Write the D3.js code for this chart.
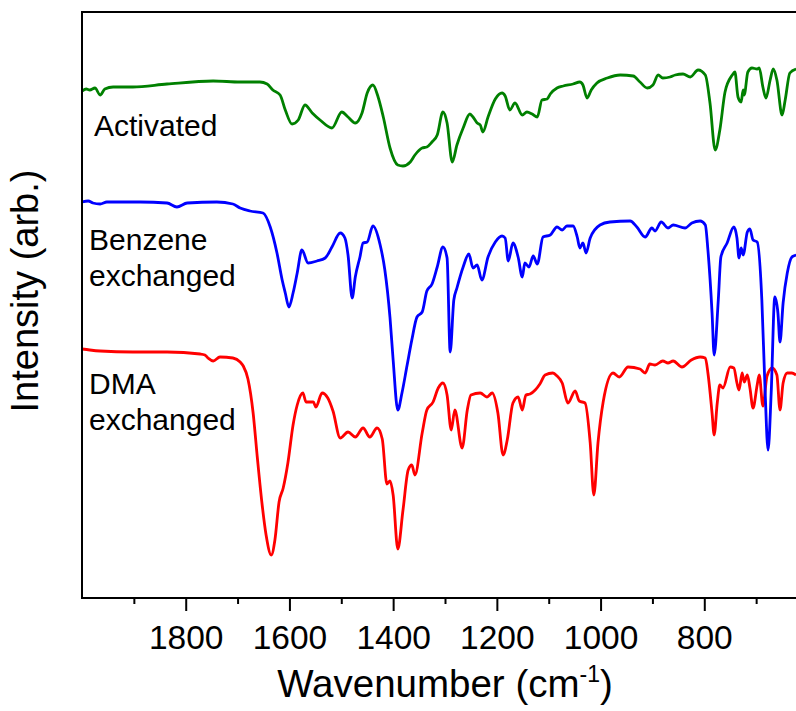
<!DOCTYPE html>
<html><head><meta charset="utf-8">
<script src="https://cdn.jsdelivr.net/npm/d3@7"></script>
<style>html,body{margin:0;padding:0;background:#fff;overflow:hidden}</style>
</head><body>
<svg id="chart" width="796" height="711"></svg>
<script>
// ---------- data (wavenumber in cm^-1, intensity in arbitrary units, offset per trace) ----------
const activatedWn = [2000,1992,1985,1975,1965,1956,1940,1902,1836,1747,
  1695,1657,1643,1632,1618,1608,1595,1583,1570,1556,
  1541,1518,1499,1487,1473,1460,1450,1439,1429,1419,
  1406,1391,1381,1367,1358,1344,1335,1325,1315,1304,
  1296,1286,1277,1265,1252,1246,1238,1232,1227,1217,
  1203,1190,1184,1175,1165,1151,1142,1132,1122,1113,
  1103,1097,1084,1072,1053,1040,1034,1026,1018,1007,
  987,962,937,924,910,899,889,880,866,856,
  841,827,812,798,789,779,770,760,746,741,
  735,729,725,723,716,708,698,694,687,681,
  673,667,660,650,644,635,623];
const activatedI = [50.7,50.9,50.8,51.0,50.3,50.9,51.1,51.1,51.4,51.7,
  51.6,51.6,51.4,50.8,50.3,48.8,47.4,47.8,49.3,48.5,
  47.8,47.0,48.6,48.1,47.5,48.5,50.5,51.3,50.1,48.1,
  45.0,43.3,43.2,43.6,44.3,45.0,45.1,45.6,46.3,48.6,
  47.5,43.6,45.3,47.0,48.4,48.1,47.5,47.3,46.6,48.1,
  49.9,50.5,50.2,48.8,49.5,48.3,48.6,48.4,48.1,49.8,
  49.9,50.4,51.0,51.2,51.4,51.6,51.3,50.0,50.8,51.5,
  52.0,52.3,52.2,51.6,51.0,51.3,52.3,52.0,52.1,52.3,
  52.4,52.1,52.8,52.3,49.5,44.8,46.8,50.6,52.3,52.6,
  50.1,49.6,50.8,50.3,52.6,53.0,52.9,53.0,51.1,50.0,
  51.8,52.9,51.8,48.3,49.8,52.5,52.9];

const benzeneWn = [2000,1988,1979,1965,1952,1888,1836,1817,1797,1740,
  1709,1695,1676,1651,1637,1624,1614,1608,1601,1593,
  1585,1576,1564,1547,1531,1518,1502,1493,1487,1479,
  1473,1464,1458,1450,1439,1425,1416,1406,1400,1391,
  1383,1373,1364,1354,1344,1335,1325,1315,1304,1296,
  1290,1283,1277,1265,1254,1246,1238,1229,1217,1203,
  1190,1184,1178,1169,1159,1151,1146,1138,1130,1122,
  1111,1097,1084,1074,1065,1053,1045,1040,1034,1028,
  1020,1001,982,943,930,914,901,895,883,870,
  860,837,824,808,798,793,785,781,773,768,
  756,743,737,733,729,725,717,712,706,698,
  689,683,677,671,664,658,654,648,640,631,
  623];
const benzeneI = [39.6,39.7,39.5,39.4,39.6,39.6,39.5,39.1,39.5,39.6,
  39.4,39.0,38.7,38.5,37.1,34.5,31.8,30.5,29.1,30.5,
  32.5,34.8,33.5,33.7,34.0,35.1,36.5,36.0,34.3,30.0,
  32.1,34.1,35.5,35.6,37.2,35.3,32.8,28.0,23.8,18.8,
  20.5,23.3,25.8,28.1,28.6,30.7,31.4,33.1,35.1,34.0,
  24.6,29.8,31.0,33.1,34.4,33.0,33.3,31.8,34.1,35.6,
  36.2,36.0,33.7,35.5,34.1,32.1,33.5,33.1,34.2,33.4,
  36.1,36.3,37.1,36.8,37.2,37.2,36.1,35.0,35.5,34.5,
  36.0,37.3,37.6,37.7,37.1,36.1,37.0,36.7,37.6,37.0,
  37.3,37.0,37.5,37.7,37.3,34.8,28.5,24.3,29.8,34.1,
  35.5,37.1,36.0,34.0,35.0,34.3,36.6,36.9,35.8,35.6,
  29.8,21.1,14.8,20.5,30.1,28.5,25.6,29.5,32.5,34.1,
  34.3];

const dmaWn = [2000,1985,1965,1902,1836,1772,1763,1757,1747,1734,
  1709,1695,1689,1680,1670,1662,1653,1645,1635,1628,
  1620,1612,1603,1593,1585,1574,1568,1554,1549,1537,
  1526,1516,1502,1487,1473,1458,1445,1431,1421,1412,
  1406,1400,1391,1381,1371,1364,1358,1344,1335,1323,
  1313,1304,1296,1288,1281,1267,1257,1250,1232,1219,
  1209,1198,1188,1180,1169,1159,1151,1144,1136,1126,
  1117,1107,1092,1084,1074,1063,1049,1041,1030,1020,
  1013,1005,995,976,964,947,924,914,905,895,
  880,870,860,843,825,808,798,793,785,781,
  775,770,764,750,743,737,733,727,723,717,
  712,706,698,694,687,679,669,660,654,648,
  640,631,623];
const dmaI = [24.9,24.8,24.7,24.6,24.6,24.4,24.3,24.0,23.7,24.1,
  24.0,23.6,23.2,21.9,18.5,14.1,9.5,6.3,4.3,5.8,
  9.6,11.0,13.5,17.3,19.3,20.5,19.6,19.6,19.1,20.5,
  20.0,18.7,16.0,16.6,16.1,17.0,16.1,17.0,15.9,11.4,
  11.7,10.3,4.9,8.8,12.8,13.3,12.3,16.5,18.8,19.6,
  21.0,21.5,20.3,16.8,18.8,15.0,18.8,20.3,20.5,20.1,
  20.5,18.5,14.3,15.8,19.5,20.1,18.8,20.3,20.4,20.8,
  21.4,22.3,22.5,22.2,21.5,19.5,20.7,19.7,19.5,15.5,
  10.3,15.5,19.6,22.5,22.1,23.1,22.9,22.5,23.4,23.3,
  23.7,23.5,23.7,23.1,23.8,24.1,24.0,22.5,18.5,16.3,
  19.5,21.3,21.0,23.1,23.0,21.5,20.8,22.5,21.6,22.3,
  21.0,19.0,21.3,22.3,19.2,22.2,23.0,22.3,18.8,21.5,
  22.5,22.5,22.3];

const seriesNames = ["DMA exchanged", "Benzene exchanged", "Activated"];
const seriesColors = ["#ff0000", "#0000ff", "#008000"];
const majorTicks = [1800, 1600, 1400, 1200, 1000, 800];
const minorTicks = [1900, 1700, 1500, 1300, 1100, 900, 700];
const xTitle = "Wavenumber (cm";
const yTitle = "Intensity (arb.)";

// ---------- layout ----------
const svg = d3.select("#chart");
const mL = 82, mR = 808, mT = 12, mB = 598;
const x = d3.scaleLinear().domain([2000, 600]).range([mL, mR]);
const y = d3.scaleLinear().domain([0, 58.6]).range([mB, mT]);
const font = "'Liberation Sans', Arial, Helvetica, sans-serif";

const series = [
  {name: seriesNames[0], color: seriesColors[0], wn: dmaWn, v: dmaI},
  {name: seriesNames[1], color: seriesColors[1], wn: benzeneWn, v: benzeneI},
  {name: seriesNames[2], color: seriesColors[2], wn: activatedWn, v: activatedI}
];

const line = d3.line()
  .x(d => x(d[0])).y(d => y(d[1]))
  .curve(d3.curveMonotoneX);

svg.append("defs").append("clipPath").attr("id", "clip")
  .append("rect").attr("x", mL).attr("y", mT).attr("width", mR - mL).attr("height", mB - mT);

const g = svg.append("g").attr("clip-path", "url(#clip)");
series.forEach(s => {
  g.append("path")
    .datum(d3.zip(s.wn, s.v))
    .attr("d", line)
    .attr("fill", "none")
    .attr("stroke", s.color)
    .attr("stroke-width", 2.8)
    .attr("stroke-linejoin", "round");
});

// frame
svg.append("rect").attr("x", mL).attr("y", mT)
  .attr("width", mR - mL).attr("height", mB - mT)
  .attr("fill", "none").attr("stroke", "#000").attr("stroke-width", 2);

// axes
const minorAxis = d3.axisBottom(x).tickValues(minorTicks).tickSize(6).tickFormat("");
const majorAxis = d3.axisBottom(x).tickValues(majorTicks).tickSize(13).tickPadding(14).tickFormat(d3.format("d"));
const ga1 = svg.append("g").attr("transform", `translate(0,${mB})`).call(minorAxis);
const ga2 = svg.append("g").attr("transform", `translate(0,${mB})`).call(majorAxis);
[ga1, ga2].forEach(a => {
  a.select(".domain").remove();
  a.selectAll(".tick line").attr("stroke", "#000").attr("stroke-width", 2);
});
ga2.selectAll(".tick text")
  .attr("font-family", font).attr("font-size", 33.5).attr("fill", "#000");

// x title
const xt = svg.append("text")
  .attr("x", (mL + mR) / 2).attr("y", 697)
  .attr("text-anchor", "middle")
  .attr("font-family", font).attr("font-size", 38.5).attr("fill", "#000");
xt.append("tspan").text(xTitle);
xt.append("tspan").attr("font-size", 23).attr("dy", -15).text("-1");
xt.append("tspan").attr("dy", 15).text(")");

// y title
svg.append("text")
  .attr("transform", "translate(38,291) rotate(-90)")
  .attr("text-anchor", "middle")
  .attr("font-family", font).attr("font-size", 38).attr("fill", "#000")
  .text(yTitle);

// series labels
const labels = [
  {lines: ["Activated"], x: 94, y: 136},
  {lines: ["Benzene", "exchanged"], x: 89, y: 250},
  {lines: ["DMA", "exchanged"], x: 89, y: 394}
];
labels.forEach(l => {
  const t = svg.append("text").attr("x", l.x).attr("y", l.y)
    .attr("font-family", font).attr("font-size", 30).attr("fill", "#000");
  l.lines.forEach((ln, i) => t.append("tspan").attr("x", l.x).attr("dy", i === 0 ? 0 : 36).text(ln));
});
</script>
</body></html>
